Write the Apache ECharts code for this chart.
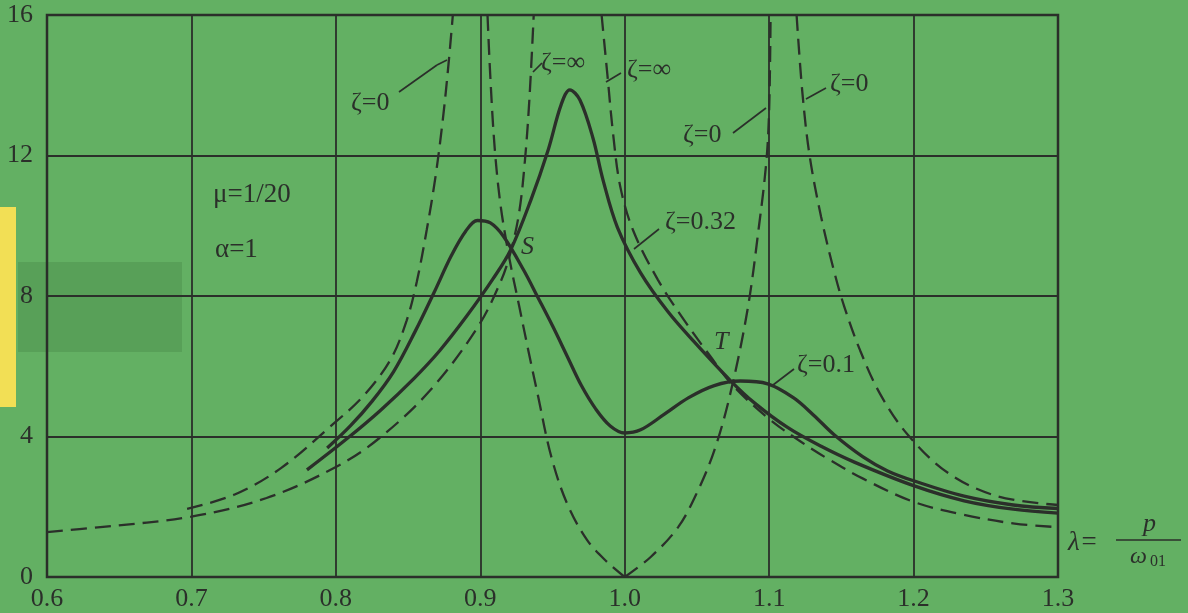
<!DOCTYPE html>
<html>
<head>
<meta charset="utf-8">
<script src="https://cdn.jsdelivr.net/npm/echarts@6/dist/echarts.min.js"></script>
<style>
html,body{margin:0;padding:0;background:#63b063;}
#main{width:1188px;height:613px;}
</style>
</head>
<body>
<div id="main"></div>
<script>
// 动力吸振器幅频曲线 (mu=1/20, alpha=1)
var xTicks = [0.6, 0.7, 0.8, 0.9, 1.0, 1.1, 1.2, 1.3];
var yTicks = [0, 4, 8, 12, 16];

// zeta = 0 (虚线, 三段)
var zeta0Left = [[0.697,1.94],[0.73,2.35],[0.762,3.1],[0.798,4.35],[0.819,5.15],[0.838,6.2],[0.849,7.3],[0.856,8.4],[0.863,9.9],[0.869,11.4],[0.874,13.0],[0.878,14.6],[0.881,16]];
var zeta0MidL = [[0.905,16],[0.907,14.2],[0.91,12.2],[0.914,10.6],[0.92,9.1],[0.927,7.7],[0.933,6.5],[0.94,5.15],[0.949,3.45],[0.96,2.1],[0.974,1.05],[0.988,0.42],[1.0,0]];
var zeta0MidR = [[1.0,0],[1.018,0.57],[1.037,1.42],[1.05,2.4],[1.062,3.6],[1.073,5.2],[1.085,7.6],[1.093,10.0],[1.098,11.8],[1.1,13.3],[1.101,16]];
var zeta0Right = [[1.119,16],[1.123,13.8],[1.128,12.0],[1.136,10.25],[1.145,8.7],[1.152,7.7],[1.163,6.45],[1.177,5.2],[1.196,4.05],[1.224,2.96],[1.258,2.3],[1.3,2.05]];

// zeta = 无穷 (虚线, 两段)
var zetaInfLeft = [[0.6,1.28],[0.637,1.42],[0.7,1.72],[0.752,2.25],[0.8,3.13],[0.83,3.95],[0.865,5.3],[0.898,7.1],[0.914,8.4],[0.921,9.25],[0.927,10.4],[0.931,11.9],[0.934,13.6],[0.937,16]];
var zetaInfRight = [[0.984,16],[0.988,14.3],[0.992,12.6],[0.997,11.1],[1.006,9.85],[1.023,8.46],[1.041,7.32],[1.059,6.3],[1.075,5.45],[1.1,4.5],[1.122,3.85],[1.14,3.38],[1.165,2.8],[1.2,2.14],[1.235,1.77],[1.27,1.52],[1.3,1.42]];

// zeta = 0.1 (实线)
var zeta01 = [[0.794,3.67],[0.81,4.3],[0.825,5.0],[0.84,5.85],[0.855,7.0],[0.868,8.1],[0.88,9.15],[0.89,9.85],[0.898,10.15],[0.907,10.08],[0.916,9.7],[0.93,8.74],[0.94,7.95],[0.95,7.15],[0.96,6.3],[0.97,5.45],[0.98,4.78],[0.99,4.3],[1.0,4.1],[1.011,4.19],[1.027,4.62],[1.044,5.1],[1.062,5.45],[1.08,5.58],[1.099,5.5],[1.117,5.1],[1.131,4.6],[1.145,4.05],[1.165,3.42],[1.182,3.02],[1.2,2.74],[1.235,2.3],[1.269,2.05],[1.3,1.95]];

// zeta = 0.32 (实线)
var zeta032 = [[0.78,3.05],[0.808,3.95],[0.831,4.75],[0.854,5.65],[0.872,6.45],[0.891,7.45],[0.909,8.5],[0.921,9.31],[0.935,10.73],[0.947,12.16],[0.956,13.45],[0.962,13.87],[0.969,13.58],[0.978,12.5],[0.985,11.3],[0.995,9.95],[1.011,8.66],[1.03,7.55],[1.048,6.7],[1.073,5.6],[1.09,4.95],[1.113,4.25],[1.136,3.72],[1.159,3.27],[1.2,2.6],[1.235,2.17],[1.269,1.93],[1.3,1.82]];

var ink = '#2b2f2a';
var serif = '"Liberation Serif", "DejaVu Serif", serif';

function solid(data){
    return {type:'line', data:data, smooth:0.35, showSymbol:false, silent:true,
        lineStyle:{color:ink, width:3.3}};
}
function dashed(data){
    return {type:'line', data:data, smooth:0.35, showSymbol:false, silent:true,
        lineStyle:{color:ink, width:2.3, type:[16,8]}};
}

function txt(x, y, s, size, italic){
    return {type:'text', x:x, y:y, silent:true,
        style:{text:s, fill:ink, font:(italic ? 'italic ' : '') + size + 'px ' + serif, textVerticalAlign:'middle'}};
}
function seg(x1, y1, x2, y2){
    return {type:'line', silent:true, shape:{x1:x1, y1:y1, x2:x2, y2:y2},
        style:{stroke:ink, lineWidth:1.7}};
}

var chart = echarts.init(document.getElementById('main'));
var option = {
    backgroundColor:'#63b063',
    animation:false,
    grid:{left:47, right:130, top:15, bottom:36, show:true, borderColor:ink, borderWidth:2.5, backgroundColor:'transparent'},
    xAxis:{type:'value', min:xTicks[0], max:xTicks[xTicks.length-1], interval:0.1,
        axisLine:{show:false}, axisTick:{show:false},
        splitLine:{show:true, lineStyle:{color:ink, width:1.8}},
        axisLabel:{color:ink, fontSize:26, fontFamily:serif, margin:9,
            formatter:function(v){ return v.toFixed(1); }}},
    yAxis:{type:'value', min:yTicks[0], max:yTicks[yTicks.length-1], interval:4,
        axisLine:{show:false}, axisTick:{show:false},
        splitLine:{show:true, lineStyle:{color:ink, width:1.8}},
        axisLabel:{color:ink, fontSize:26, fontFamily:serif, margin:14}},
    series:[
        dashed(zeta0Left), dashed(zeta0MidL), dashed(zeta0MidR), dashed(zeta0Right),
        dashed(zetaInfLeft), dashed(zetaInfRight),
        solid(zeta01), solid(zeta032)
    ],
    graphic:[
        // 左侧的黄色贴纸和胶带
        {type:'rect', shape:{x:0, y:207, width:16, height:200}, style:{fill:'#f2df55'}, silent:true, z:-1},
        {type:'rect', shape:{x:18, y:262, width:164, height:90}, style:{fill:'rgba(40,90,40,0.18)'}, silent:true, z:-1},
        txt(351, 103, 'ζ=0', 26), seg(399, 92, 437, 65), seg(437, 65, 447, 60),
        txt(541, 63, 'ζ=∞', 26), seg(533, 72, 542, 63),
        txt(627, 70, 'ζ=∞', 26), seg(606, 82, 621, 73),
        txt(683, 135, 'ζ=0', 26), seg(733, 133, 766, 108),
        txt(830, 84, 'ζ=0', 26), seg(826, 88, 806, 99),
        txt(665, 222, 'ζ=0.32', 26), seg(659, 229, 634, 249),
        txt(797, 365, 'ζ=0.1', 26), seg(794, 369, 773, 385),
        txt(213, 195, 'μ=1/20', 27), txt(215, 250, 'α=1', 27),
        txt(521, 247, 'S', 26, true), txt(714, 342, 'T', 26, true),
        txt(1068, 543, 'λ=', 27, true),
        txt(1143, 524, 'p', 26, true),
        seg(1116, 540, 1181, 540),
        txt(1130, 557, 'ω', 24, true), txt(1150, 562, '01', 16)
    ]
};
chart.setOption(option);
</script>
</body>
</html>
